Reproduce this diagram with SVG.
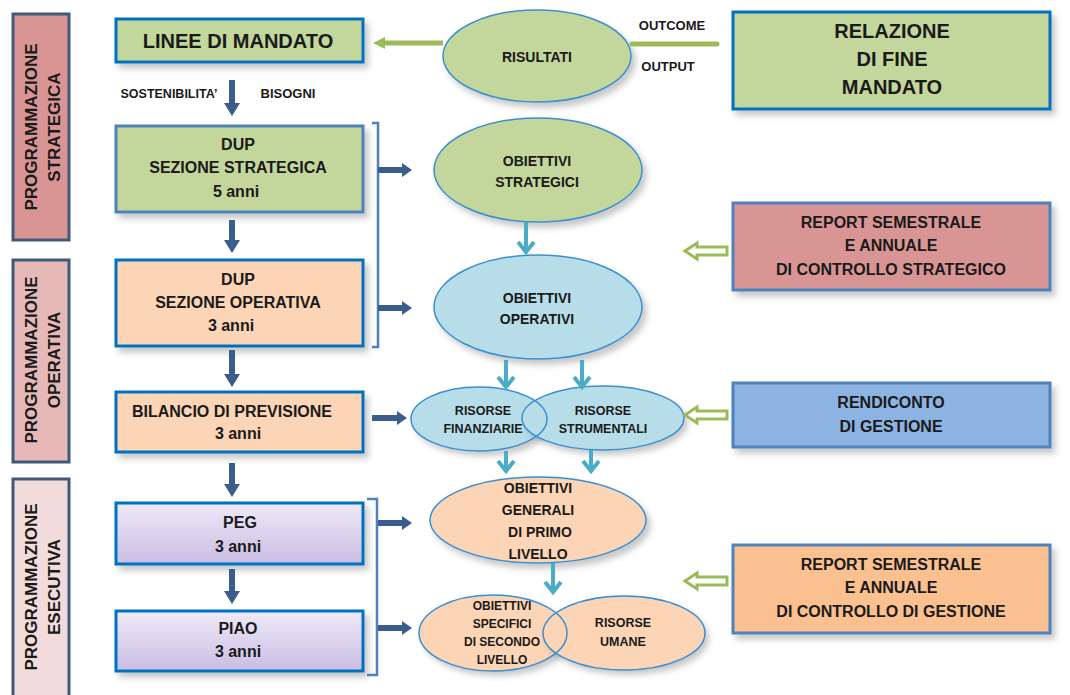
<svg xmlns="http://www.w3.org/2000/svg" width="1070" height="695" viewBox="0 0 1070 695">
<defs>
<linearGradient id="lav" x1="0" y1="0" x2="0" y2="1">
<stop offset="0" stop-color="#efeaf8"/>
<stop offset="1" stop-color="#c9bde3"/>
</linearGradient>
<filter id="sh" x="-10%" y="-10%" width="130%" height="140%">
<feDropShadow dx="4" dy="5" stdDeviation="3" flood-color="#000" flood-opacity="0.22"/>
</filter>
<style>
text{font-family:"Liberation Sans",Arial,sans-serif;font-weight:bold;fill:#1a1a1a;text-anchor:middle}
.bar{stroke:#3e5a78;stroke-width:3}
.bx{stroke:#0070c0;stroke-width:3}
.bx2{stroke:#4f81bd;stroke-width:3}
.el{stroke:#3a8fd0;stroke-width:1.5}
.dk{fill:#3a5d8c}
.lb{stroke:#4bacc6;stroke-width:4;fill:none}
.gh{fill:#fff;stroke:#9bbb59;stroke-width:3}
.br{fill:none;stroke:#4f81bd;stroke-width:2.5}
.t20{font-size:20px}
.t16{font-size:16px}
.t14{font-size:14px}
.t13{font-size:13px}
.t12{font-size:12.5px}
.t11{font-size:12px}
.tb{font-size:17px}
</style>
</defs>

<!-- Side bars -->
<g id="bar-strategica">
<rect class="bar" x="13" y="14" width="56" height="226" fill="#d99594"/>
<text class="tb" transform="translate(37,127) rotate(-90)">PROGRAMMAZIONE</text>
<text class="tb" transform="translate(60,127) rotate(-90)">STRATEGICA</text>
</g>
<g id="bar-operativa">
<rect class="bar" x="13" y="260" width="56" height="202" fill="#e6b9b8"/>
<text class="tb" transform="translate(37,360) rotate(-90)">PROGRAMMAZIONE</text>
<text class="tb" transform="translate(60,360) rotate(-90)">OPERATIVA</text>
</g>
<g id="bar-esecutiva">
<rect class="bar" x="13" y="479" width="56" height="230" fill="#f2dcdb"/>
<text class="tb" transform="translate(37,587) rotate(-90)">PROGRAMMAZIONE</text>
<text class="tb" transform="translate(60,587) rotate(-90)">ESECUTIVA</text>
</g>

<!-- Left column boxes -->
<g id="linee-mandato">
<rect class="bx" x="116" y="19" width="247" height="43" fill="#c3d69b" filter="url(#sh)"/>
<text class="t20" x="238" y="48">LINEE DI MANDATO</text>
</g>
<g id="dup-ss">
<rect class="bx2" x="116" y="126" width="247" height="86" fill="#c3d69b" filter="url(#sh)"/>
<text class="t16" x="238" y="150">DUP</text>
<text class="t16" x="238" y="173">SEZIONE STRATEGICA</text>
<text class="t16" x="236" y="197">5 anni</text>
</g>
<g id="dup-so">
<rect class="bx" x="116" y="260" width="247" height="86" fill="#fbd5b5" filter="url(#sh)"/>
<text class="t16" x="238" y="285">DUP</text>
<text class="t16" x="238" y="308">SEZIONE OPERATIVA</text>
<text class="t16" x="231" y="331">3 anni</text>
</g>
<g id="bilancio">
<rect class="bx" x="116" y="392" width="247" height="60" fill="#fbd5b5" filter="url(#sh)"/>
<text class="t16" x="232" y="417">BILANCIO DI PREVISIONE</text>
<text class="t16" x="238" y="439">3 anni</text>
</g>
<g id="peg">
<rect class="bx" x="116" y="503" width="247" height="61" fill="url(#lav)" filter="url(#sh)"/>
<text class="t16" x="240" y="528">PEG</text>
<text class="t16" x="238" y="552">3 anni</text>
</g>
<g id="piao">
<rect class="bx" x="116" y="611" width="247" height="60" fill="url(#lav)" filter="url(#sh)"/>
<text class="t16" x="238" y="634">PIAO</text>
<text class="t16" x="238" y="657">3 anni</text>
</g>

<!-- Ellipses -->
<g id="risultati">
<ellipse class="el" cx="537" cy="56" rx="94" ry="46" fill="#c3d69b" filter="url(#sh)"/>
<text class="t14" x="537" y="62">RISULTATI</text>
</g>
<g id="obiettivi-strategici">
<ellipse class="el" cx="538" cy="170" rx="104" ry="52" fill="#c3d69b" filter="url(#sh)"/>
<text class="t14" x="537" y="166">OBIETTIVI</text>
<text class="t14" x="537" y="187">STRATEGICI</text>
</g>
<g id="obiettivi-operativi">
<ellipse class="el" cx="538" cy="307" rx="104" ry="52" fill="#b7dde8" filter="url(#sh)"/>
<text class="t14" x="537" y="303">OBIETTIVI</text>
<text class="t14" x="537" y="324">OPERATIVI</text>
</g>
<g id="risorse">
<ellipse cx="479" cy="419" rx="68" ry="32" fill="#b7dde8" filter="url(#sh)"/>
<ellipse cx="603" cy="418" rx="81" ry="32" fill="#b7dde8" filter="url(#sh)"/>
<ellipse class="el" cx="479" cy="419" rx="68" ry="32" fill="none"/>
<ellipse class="el" cx="603" cy="418" rx="81" ry="32" fill="none"/>
<text class="t12" x="483" y="415">RISORSE</text>
<text class="t12" x="483" y="433">FINANZIARIE</text>
<text class="t12" x="603" y="415">RISORSE</text>
<text class="t12" x="603" y="433">STRUMENTALI</text>
</g>
<g id="obiettivi-generali">
<ellipse class="el" cx="538" cy="520" rx="108" ry="43" fill="#fbd5b5" filter="url(#sh)"/>
<text class="t14" x="538" y="493">OBIETTIVI</text>
<text class="t14" x="538" y="515">GENERALI</text>
<text class="t14" x="540" y="537">DI PRIMO</text>
<text class="t14" x="538" y="559">LIVELLO</text>
</g>
<g id="specifici-umane">
<ellipse cx="493" cy="633" rx="74" ry="38" fill="#fbd5b5" filter="url(#sh)"/>
<ellipse cx="624" cy="633" rx="81" ry="37" fill="#fbd5b5" filter="url(#sh)"/>
<ellipse class="el" cx="493" cy="633" rx="74" ry="38" fill="none"/>
<ellipse class="el" cx="624" cy="633" rx="81" ry="37" fill="none"/>
<text class="t11" x="502" y="610">OBIETTIVI</text>
<text class="t11" x="502" y="628">SPECIFICI</text>
<text class="t11" x="502" y="646">DI SECONDO</text>
<text class="t11" x="502" y="664">LIVELLO</text>
<text class="t12" x="623" y="627">RISORSE</text>
<text class="t12" x="623" y="646">UMANE</text>
</g>

<!-- Right boxes -->
<g id="relazione">
<rect class="bx" x="733" y="12" width="317" height="97" fill="#c3d69b" filter="url(#sh)"/>
<text class="t20" x="892" y="38">RELAZIONE</text>
<text class="t20" x="892" y="66">DI FINE</text>
<text class="t20" x="892" y="94">MANDATO</text>
</g>
<g id="report-strategico">
<rect class="bx2" x="733" y="203" width="317" height="87" fill="#d99594" filter="url(#sh)"/>
<text class="t16" x="891" y="228">REPORT SEMESTRALE</text>
<text class="t16" x="891" y="251">E ANNUALE</text>
<text class="t16" x="891" y="275">DI CONTROLLO STRATEGICO</text>
</g>
<g id="rendiconto">
<rect class="bx2" x="733" y="383" width="317" height="64" fill="#8db3e2" filter="url(#sh)"/>
<text class="t16" x="891" y="408">RENDICONTO</text>
<text class="t16" x="891" y="432">DI GESTIONE</text>
</g>
<g id="report-gestione">
<rect class="bx2" x="733" y="545" width="317" height="88" fill="#fac090" filter="url(#sh)"/>
<text class="t16" x="891" y="570">REPORT SEMESTRALE</text>
<text class="t16" x="891" y="593">E ANNUALE</text>
<text class="t16" x="891" y="617">DI CONTROLLO DI GESTIONE</text>
</g>

<!-- Labels -->
<g id="labels">
<text class="t12" x="169" y="98">SOSTENIBILITA’</text>
<text class="t13" x="288" y="98">BISOGNI</text>
<text class="t13" x="672" y="30">OUTCOME</text>
<text class="t13" x="668" y="71">OUTPUT</text>
</g>

<!-- Connectors -->
<g id="connectors">
<!-- green line risultati -->
<line x1="384" y1="43" x2="443" y2="43" stroke="#9bbb59" stroke-width="5"/>
<polygon points="373,43 385,37 385,49" fill="#9bbb59"/>
<line x1="632" y1="44" x2="717" y2="44" stroke="#9bbb59" stroke-width="5" stroke-linecap="round"/>

<!-- vertical dark arrows -->
<polygon class="dk" points="229,80 235,80 235,103 240,103 232,116 224,103 229,103"/>
<polygon class="dk" points="229,220 235,220 235,240 240,240 232,253 224,240 229,240"/>
<polygon class="dk" points="229,350 235,350 235,374 240,374 232,387 224,374 229,374"/>
<polygon class="dk" points="229,463 235,463 235,484 240,484 232,497 224,484 229,484"/>
<polygon class="dk" points="229,569 235,569 235,591 240,591 232,604 224,591 229,591"/>

<!-- brackets -->
<path class="br" d="M372,123 H378 V347 H372"/>
<path class="br" d="M367,499 H377 V675 H367"/>

<!-- horizontal dark arrows -->
<polygon class="dk" points="378,167 402,167 402,163 412,170 402,177 402,173 378,173"/>
<polygon class="dk" points="378,305 402,305 402,301 412,308 402,315 402,311 378,311"/>
<polygon class="dk" points="372,415 397,415 397,411 407,418 397,425 397,421 372,421"/>
<polygon class="dk" points="378,520 402,520 402,516 412,523 402,530 402,526 378,526"/>
<polygon class="dk" points="378,625 402,625 402,621 412,628 402,635 402,631 378,631"/>

<!-- light blue arrows -->
<line class="lb" x1="526" y1="222" x2="526" y2="252"/>
<polyline class="lb" points="518,242 526,252 534,242"/>
<line class="lb" x1="506" y1="360" x2="506" y2="387"/>
<polyline class="lb" points="498,377 506,387 514,377"/>
<line class="lb" x1="582" y1="360" x2="582" y2="387"/>
<polyline class="lb" points="574,377 582,387 590,377"/>
<line class="lb" x1="506" y1="451" x2="506" y2="471"/>
<polyline class="lb" points="498,461 506,471 514,461"/>
<line class="lb" x1="591" y1="450" x2="591" y2="471"/>
<polyline class="lb" points="583,461 591,471 599,461"/>
<line class="lb" x1="553" y1="563" x2="553" y2="592"/>
<polyline class="lb" points="545,582 553,592 561,582"/>

<!-- hollow green arrows -->
<polygon class="gh" points="685,251 697,243 697,247 727,247 727,255 697,255 697,259"/>
<polygon class="gh" points="685,415 697,407 697,411 727,411 727,419 697,419 697,423"/>
<polygon class="gh" points="685,581 697,573 697,577 727,577 727,585 697,585 697,589"/>
</g>
</svg>
